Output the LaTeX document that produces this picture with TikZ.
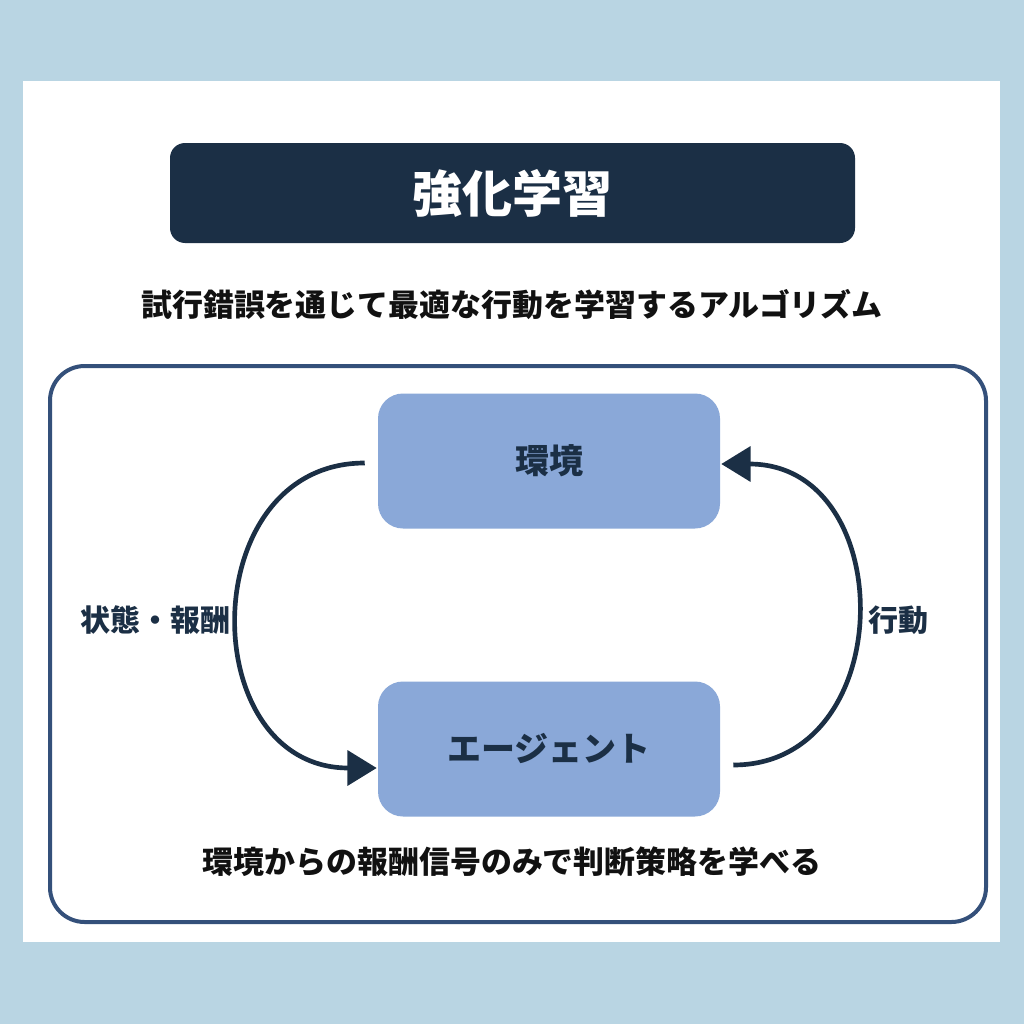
\documentclass[tikz,border=0pt]{standalone}
\usepackage{fontspec}
\setmainfont{Noto Sans CJK JP}
\usetikzlibrary{arrows.meta,calc}
\definecolor{bgblue}{HTML}{B9D5E3}
\definecolor{navy}{HTML}{1B2F45}
\definecolor{boxblue}{HTML}{8AA8D8}
\definecolor{framecol}{HTML}{34507A}
\definecolor{txt}{HTML}{111111}
\tikzset{
  titlebox/.style={fill=navy, rounded corners=11.25pt, minimum width=513.75pt, minimum height=75pt,
    text=white, font=\fontsize{37.5pt}{44pt}\selectfont\bfseries, inner sep=0pt},
  subtext/.style={text=txt, font=\fontsize{23.2pt}{28pt}\selectfont\bfseries, inner sep=0pt},
  framebox/.style={draw=framecol, line width=3pt, rounded corners=26pt},
  statebox/.style={fill=boxblue, rounded corners=18.75pt, minimum width=256.5pt, minimum height=101.25pt,
    text=navy, font=\fontsize{25.5pt}{30pt}\selectfont\bfseries, inner sep=0pt},
  sidelab/.style={text=navy, font=\fontsize{22.5pt}{27pt}\selectfont\bfseries, inner sep=0pt},
  flow/.style={draw=navy, line width=3.5pt, -{Triangle[length=22pt,width=26pt]}},
}
\begin{document}
\begin{tikzpicture}[x=0.75pt,y=-0.75pt]
\fill[bgblue] (0,0) rectangle (1024,1024);
\useasboundingbox (0,0) rectangle (1024,1024);
\fill[white] (23,81) rectangle (1000,942);
\node[titlebox] (title) at (512.5,193) {強化学習};
\node[subtext] (sub) at (512,305) {試行錯誤を通じて最適な行動を学習するアルゴリズム};
\draw[framebox] (50,366) rectangle (986,922);
\node[statebox] (env) at (549,461) {環境};
\node[statebox] (agent) at (549,749) {エージェント};
\node[sidelab] (l1) at (155,620) {状態・報酬};
\node[sidelab] (l2) at (898,620) {行動};
\node[subtext] (note) at (512,862) {環境からの報酬信号のみで判断策略を学べる};
\coordinate (s1) at ($(env.west)+(-13,2)$);
\coordinate (s2) at ($(agent.east)+(13,16)$);
\draw[flow] (s1) .. controls (194,463) and (194,768) .. ($(agent.west)+(-1,19)$);
\draw[flow] (s2) .. controls (900,765) and (900,464) .. ($(env.east)+(1,3)$);
\end{tikzpicture}
\end{document}
